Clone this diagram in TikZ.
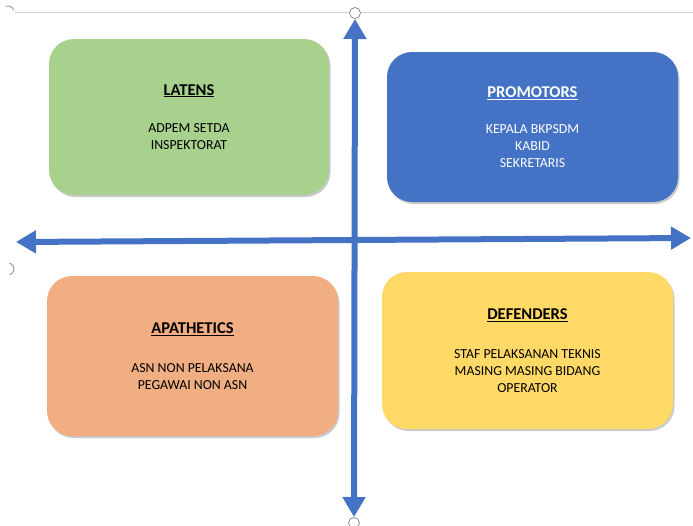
\documentclass[tikz,border=0pt]{standalone}
\usepackage{fontspec}
\setmainfont{Carlito}
\usetikzlibrary{arrows.meta,shadows}
\definecolor{cgreen}{HTML}{A9D18E}
\definecolor{cblue}{HTML}{4472C4}
\definecolor{corange}{HTML}{F0AE82}
\definecolor{cyellow}{HTML}{FFD966}
\definecolor{chandle}{HTML}{8C8C8C}
\newcommand{\qtitle}[1]{{\fontsize{16.5}{17}\selectfont\underline{\textbf{#1}}}}
\begin{document}
\begin{tikzpicture}[x=1pt,y=-1pt,
  quad/.style={rounded corners=25pt, align=center, inner sep=0pt,
    font=\fontsize{13.8}{16.8}\selectfont,
    drop shadow={shadow xshift=1.5pt, shadow yshift=-2pt, opacity=0.35, fill=black!60}},
  axis/.style={cblue, line width=6pt,
    {Triangle[width=22pt,length=20pt]}-{Triangle[width=22pt,length=20pt]}},
  handle/.style={chandle, line width=0.8pt}]
\useasboundingbox (0,0) rectangle (693,525);
% selection frame remnants
\draw[black!18, line width=0.8pt] (15,12) -- (693,12);
\draw[handle] (8,12) ++(-20:6) arc (-20:-110:6);
\draw[handle, fill=white] (355,13) circle (5.5);
\draw[handle] (8,269) ++(-75:6) arc (-75:75:6);
\draw[handle, fill=white] (354,523) circle (5.5);
% boxes
\node[quad, fill=cgreen, minimum width=280pt, minimum height=156pt] (lat) at (189,117)
  {\qtitle{LATENS}\\[21pt]ADPEM SETDA\\INSPEKTORAT};
\node[quad, fill=cblue, text=white, minimum width=291pt, minimum height=150pt] (pro) at (532.5,127)
  {\qtitle{PROMOTORS}\\[19pt]KEPALA BKPSDM\\KABID\\SEKRETARIS};
\node[quad, fill=corange, minimum width=291pt, minimum height=160pt] (apa) at (192.5,356)
  {\qtitle{APATHETICS}\\[22pt]ASN NON PELAKSANA\\PEGAWAI NON ASN};
\node[quad, fill=cyellow, minimum width=291pt, minimum height=157pt] (def) at (527.5,350.5)
  {\qtitle{DEFENDERS}\\[22pt]STAF PELAKSANAN TEKNIS\\MASING MASING BIDANG\\OPERATOR};
% axes
\coordinate (top) at (355,19);
\coordinate (bot) at (354,517);
\coordinate (lft) at (16,242);
\coordinate (rgt) at (691,238);
\draw[axis] (lft) -- (rgt);
\draw[axis] (bot) -- (top);
\end{tikzpicture}
\end{document}
